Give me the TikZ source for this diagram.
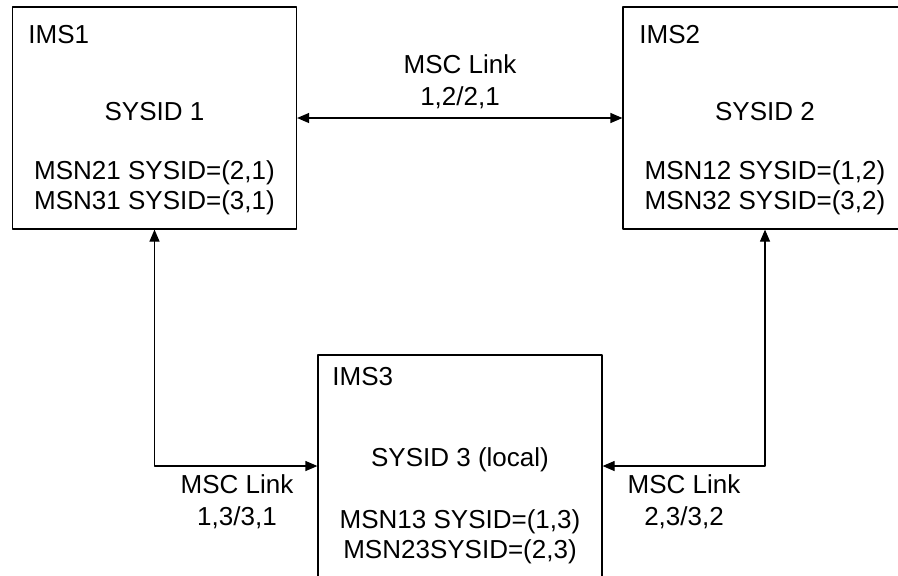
\documentclass[tikz,border=0pt]{standalone}
\usepackage{fontspec}
\setmainfont{Liberation Sans}
\usetikzlibrary{arrows.meta}

\begin{document}
\begin{tikzpicture}[
	line cap=round,
	line join=round,
	x=0.5pt, y=-0.5pt,
	imsbox/.style={draw, line width=0.6pt, minimum width=142pt, minimum height=111pt, inner sep=0pt},
	txt/.style={inner sep=0pt, align=center, font=\fontsize{13}{14.8}\selectfont},
	lbl/.style={inner sep=0pt, align=center, font=\fontsize{13}{15.8}\selectfont},
	link/.style={line width=0.6pt, {Triangle[length=6pt,width=5pt]}-{Triangle[length=6pt,width=5pt]}}
	]
	% Khung hình (hộp IMS2 và IMS3 bị cắt ở mép)
	\useasboundingbox (0,0) rectangle (898,575);
	\clip (0,0) rectangle (898,575);
	
	% Ba hệ IMS
	\node[imsbox] (ims1) at (154.5,118) {};
	\node[imsbox] (ims2) at (765,118) {};
	\node[imsbox] (ims3) at (460,466) {};
	
	% Nội dung IMS1
	\node[txt, anchor=west] (n1) at (28,35) {IMS1};
	\node[txt] (s1) at (154.5,112) {SYSID 1};
	\node[txt] (m1) at (154.5,188)
	{MSN21 SYSID=(2,1)\\MSN31 SYSID=(3,1)};
	
	% Nội dung IMS2
	\node[txt, anchor=west] (n2) at (639,35) {IMS2};
	\node[txt] (s2) at (765,112) {SYSID 2};
	\node[txt] (m2) at (765,188)
	{MSN12 SYSID=(1,2)\\MSN32 SYSID=(3,2)};
	
	% Nội dung IMS3
	\node[txt, anchor=west] (n3) at (332,377) {IMS3};
	\node[txt] (s3) at (460,460) {SYSID 3 (local)};
	\node[txt] (m3) at (460,537)
	{MSN13 SYSID=(1,3)\\MSN23SYSID=(2,3)};
	
	% Các liên kết MSC
	\draw[link] (ims1) -- (ims2);
	\draw[link] (ims1.south) |- (ims3.west);
	\draw[link] (ims2.south) |- (ims3.east);
	
	% Nhãn liên kết
	\node[lbl] (k12) at (460,82) {MSC Link\\1,2/2,1};
	\node[lbl] (k13) at (237,502) {MSC Link\\1,3/3,1};
	\node[lbl] (k23) at (684,502) {MSC Link\\2,3/3,2};
	
\end{tikzpicture}
\end{document}
